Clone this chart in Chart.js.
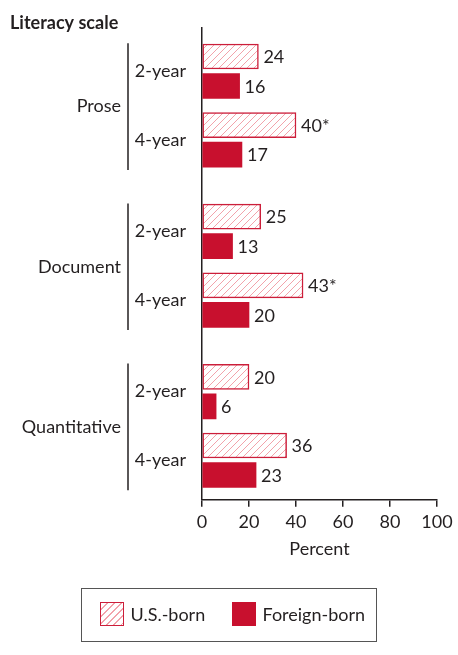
<!DOCTYPE html>
<html>
<head>
<meta charset="utf-8">
<script src="https://cdn.jsdelivr.net/npm/chart.js@4.4.1/dist/chart.umd.min.js"></script>
<style>
  body { margin: 0; background: #fff; }
  #wrap { position: relative; width: 458px; height: 655px; }
  #legend { position: absolute; left: 81px; top: 588px; width: 296px; height: 54px; box-sizing: border-box; border: 1.5px solid #555; }
  .item { position: absolute; top: 13px; height: 24px; display: flex; align-items: center; font: 18px Lato; color: #231f20; white-space: nowrap; }
  .sw { width: 24px; height: 24px; box-sizing: border-box; margin-right: 7px; }
  .us { border: 1.5px solid #cc1e3a; background: repeating-linear-gradient(135deg, #fff 0 4px, #f2a3ab 4px 5px); }
  .fb { background: #c8102e; }
</style>
</head>
<body>
<div id="wrap">
  <canvas id="chart" width="458" height="655"></canvas>
  <div id="legend">
    <div class="item" style="left:17.5px"><span class="sw us"></span>U.S.-born</div>
    <div class="item" style="left:149.5px"><span class="sw fb"></span>Foreign-born</div>
  </div>
</div>
<script>
// Werte aus der Grafik
const groups = ['Prose', 'Document', 'Quantitative'];
const levels = ['2-year', '4-year'];
const usBorn = [24, 40, 25, 43, 20, 36];
const usNotes = ['', '*', '', '*', '', ''];
const foreignBorn = [16, 17, 13, 20, 6, 23];
const xTicks = [0, 20, 40, 60, 80, 100];

const ink = '#231f20';
const red = '#c8102e';

// Slots auf der Kategorienachse: 2-year / 4-year liegen 3 Slots auseinander, Gruppen 7
const levelStep = 3;
const groupStep = 7;
const slotCount = (groups.length - 1) * groupStep + (levels.length - 1) * levelStep + 1;

const labels = Array(slotCount).fill('');
const usData = Array(slotCount).fill(null);
const fbData = Array(slotCount).fill(null);
const noteData = Array(slotCount).fill('');

groups.forEach((g, gi) => {
    levels.forEach((lv, li) => {
        const s = gi * groupStep + li * levelStep;
        const k = gi * levels.length + li;
        labels[s] = lv;
        usData[s] = usBorn[k];
        fbData[s] = foreignBorn[k];
        noteData[s] = usNotes[k];
    });
});

function makeHatch() {
    const c = document.createElement('canvas');
    c.width = 7;
    c.height = 7;
    const g = c.getContext('2d');
    g.fillStyle = '#fff';
    g.fillRect(0, 0, 7, 7);
    g.strokeStyle = '#f2a3ab';
    g.lineWidth = 1;
    g.beginPath();
    g.moveTo(0, 7); g.lineTo(7, 0);
    g.moveTo(-1, 1); g.lineTo(1, -1);
    g.moveTo(6, 8); g.lineTo(8, 6);
    g.stroke();
    return g.createPattern(c, 'repeat');
}

const valueLabels = {
    id: 'valueLabels',
    afterDatasetsDraw(chart) {
        const ctx = chart.ctx;
        ctx.save();
        ctx.font = '18px Lato';
        ctx.fillStyle = ink;
        ctx.textBaseline = 'middle';
        ctx.textAlign = 'left';
        chart.data.datasets.forEach((ds, i) => {
            chart.getDatasetMeta(i).data.forEach((bar, j) => {
                if (ds.data[j] == null) return;
                const note = ds.notes ? ds.notes[j] : '';
                ctx.fillText(ds.data[j] + note, bar.x + 5, bar.y + 1);
            });
        });
        ctx.restore();
    }
};

// Gruppennamen + senkrechte Klammer links
const groupBrackets = {
    id: 'groupBrackets',
    afterDraw(chart) {
        const ctx = chart.ctx;
        const y = chart.scales.y;
        ctx.save();
        ctx.font = '18px Lato';
        ctx.fillStyle = ink;
        ctx.strokeStyle = ink;
        ctx.lineWidth = 1.5;
        ctx.textAlign = 'right';
        ctx.textBaseline = 'middle';
        groups.forEach((g, gi) => {
            const top = y.getPixelForValue(gi * groupStep);
            const bottom = y.getPixelForValue(gi * groupStep + levelStep);
            ctx.beginPath();
            ctx.moveTo(128, top - 28);
            ctx.lineTo(128, bottom + 30);
            ctx.stroke();
            ctx.fillText(g, 121, (top + bottom) / 2 + 1);
        });
        ctx.restore();
    }
};

new Chart(document.getElementById('chart'), {
    type: 'bar',
    data: {
        labels: labels,
        datasets: [{
            label: 'U.S.-born',
            data: usData,
            notes: noteData,
            backgroundColor: makeHatch(),
            borderColor: '#cc1e3a',
            borderWidth: 1.5,
            borderSkipped: false
        }, {
            label: 'Foreign-born',
            data: fbData,
            backgroundColor: red,
            borderWidth: 0
        }]
    },
    options: {
        indexAxis: 'y',
        responsive: false,
        animation: false,
        devicePixelRatio: 1,
        barThickness: 29.5,
        maxBarThickness: 25,
        layout: { padding: { left: 10, right: 21, top: 0, bottom: 95 } },
        plugins: {
            legend: { display: false },
            tooltip: { enabled: false },
            title: {
                display: true,
                text: 'Literacy scale',
                align: 'start',
                color: ink,
                font: { family: 'Lato', size: 18, weight: 'bold', lineHeight: 1 },
                padding: { top: 14, bottom: -4 }
            }
        },
        scales: {
            x: {
                min: 0,
                max: 100,
                afterBuildTicks: s => { s.ticks = xTicks.map(v => ({ value: v })); },
                grid: { drawOnChartArea: false, drawTicks: true, tickLength: 7, color: ink, lineWidth: 1.5 },
                border: { color: ink, width: 1.5 },
                ticks: { padding: 5, color: ink, font: { family: 'Lato', size: 18 } },
                title: {
                    display: true,
                    text: 'Percent',
                    color: ink,
                    font: { family: 'Lato', size: 18 },
                    padding: { top: 0, bottom: 0 }
                }
            },
            y: {
                type: 'category',
                offset: false,
                grid: { display: false, drawTicks: false },
                border: { display: true, color: ink, width: 1.5 },
                ticks: { padding: 16, autoSkip: false, color: ink, font: { family: 'Lato', size: 18 } },
                afterFit: s => { s.width = 192; },
                // etwas Luft über dem ersten und unter dem letzten Balkenpaar
                afterBuildTicks: s => { s._startValue = -1.89; s._valueRange = slotCount - 1 + 1.89 + 1.73; }
            }
        }
    },
    plugins: [valueLabels, groupBrackets]
});
</script>
</body>
</html>
